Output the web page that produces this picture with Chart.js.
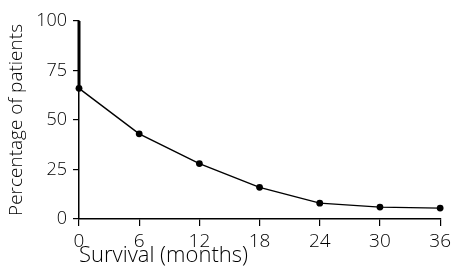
<!DOCTYPE html>
<html>
<head>
<meta charset="utf-8">
<script src="https://cdn.jsdelivr.net/npm/chart.js@4/dist/chart.umd.min.js"></script>
<style>
html,body{margin:0;padding:0;background:#fff}
</style>
</head>
<body>
<canvas id="grafico" width="455" height="267"></canvas>
<script>
// meses de sobrevida e percentual de pacientes
const meses = [0, 6, 12, 18, 24, 30, 36];
const pacientes = [66, 43, 28, 16, 8, 6, 5.5];
const inicial = 100;            // queda vertical no tempo 0
const ticksX = [0, 6, 12, 18, 24, 30, 36];
const ticksY = [0, 25, 50, 75, 100];

const fonte = "'Open Sans', 'DejaVu Sans', sans-serif";
const pontos = meses.map((m, i) => ({x: m, y: pacientes[i]}));
const queda = [{x: meses[0], y: inicial}, {x: meses[0], y: pacientes[0]}];

new Chart(document.getElementById("grafico"), {
  type: "scatter",
  data: {
    datasets: [
      {data: queda, showLine: true, borderColor: "#000", borderWidth: 3, pointRadius: 0},
      {data: pontos, showLine: true, borderColor: "#000", borderWidth: 1.4,
       pointRadius: 3.4, pointBackgroundColor: "#000", pointBorderWidth: 0}
    ]
  },
  options: {
    responsive: false,
    animation: false,
    clip: false,
    layout: {padding: {top: 21, right: 14, left: 0, bottom: 0}},
    plugins: {legend: {display: false}, tooltip: {enabled: false}},
    scales: {
      x: {
        type: "linear", min: 0, max: 36,
        afterBuildTicks: s => { s.ticks = ticksX.map(v => ({value: v})); },
        afterFit: s => { s.height = 48; },
        border: {display: true, color: "#000", width: 1.5},
        grid: {drawOnChartArea: false, drawTicks: true, tickLength: 7, color: "#000", lineWidth: 1.2},
        ticks: {color: "#000", padding: 4, font: {family: fonte, size: 19, weight: 300}},
        title: {display: true, text: "Survival (months)", align: "start", color: "#000",
                font: {family: fonte, size: 22, weight: 300, lineHeight: 1}, padding: {top: 0, bottom: 0}}
      },
      y: {
        min: 0, max: 100,
        afterBuildTicks: s => { s.ticks = ticksY.map(v => ({value: v})); },
        afterFit: s => { s.width = 79; },
        border: {display: true, color: "#000", width: 1.5},
        grid: {drawOnChartArea: false, drawTicks: true, tickLength: 6, color: "#000", lineWidth: 1.2},
        ticks: {color: "#000", padding: 6, font: {family: fonte, size: 18, weight: 300}},
        title: {display: true, text: "Percentage of patients", color: "#000",
                font: {family: fonte, size: 19, weight: 300, lineHeight: 1}, padding: {top: 7, bottom: 0}}
      }
    }
  }
});
</script>
</body>
</html>
